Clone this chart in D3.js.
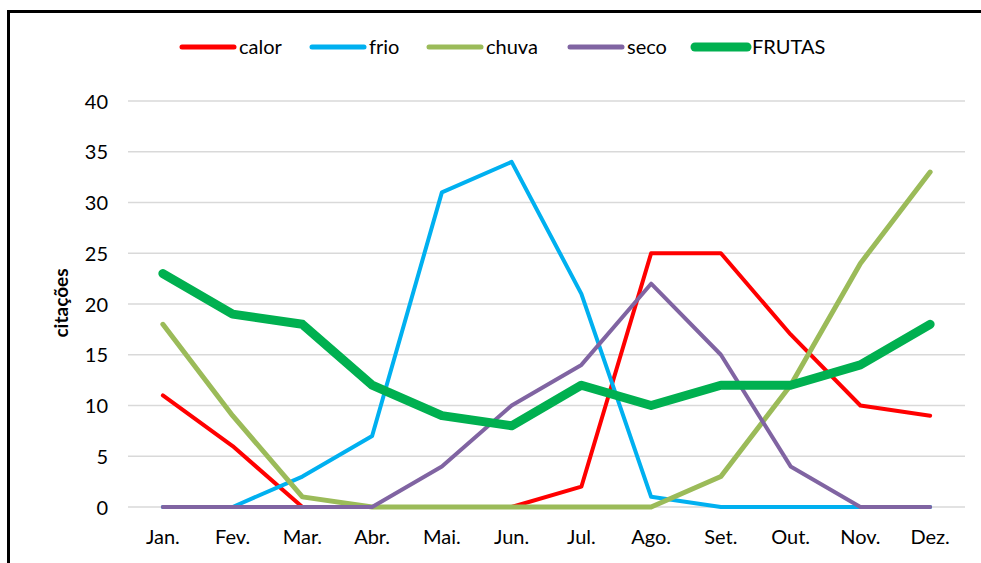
<!DOCTYPE html>
<html>
<head>
<meta charset="utf-8">
<script src="https://cdn.jsdelivr.net/npm/d3@7"></script>
<style>
  body { margin: 0; background: #fff; }
  svg text { font-family: Lato, "Open Sans", sans-serif; fill: #000; }
</style>
</head>
<body>
<svg id="chart" width="981" height="563"></svg>
<script>
var months = ["Jan.", "Fev.", "Mar.", "Abr.", "Mai.", "Jun.", "Jul.", "Ago.", "Set.", "Out.", "Nov.", "Dez."];
var yTicks = [0, 5, 10, 15, 20, 25, 30, 35, 40];

var calor  = [11, 6, 0, 0, 0, 0, 2, 25, 25, 17, 10, 9];
var frio   = [0, 0, 3, 7, 31, 34, 21, 1, 0, 0, 0, 0];
var chuva  = [18, 9, 1, 0, 0, 0, 0, 0, 3, 12, 24, 33];
var seco   = [0, 0, 0, 0, 4, 10, 14, 22, 15, 4, 0, 0];
var frutas = [23, 19, 18, 12, 9, 8, 12, 10, 12, 12, 14, 18];

var svg = d3.select("#chart");

// frame around chart
svg.append("rect")
  .attr("x", 8.5).attr("y", 11.5)
  .attr("width", 975).attr("height", 600)
  .attr("fill", "none")
  .attr("stroke", "#000")
  .attr("stroke-width", 3);

var x = d3.scaleBand().domain(months).range([128, 965]);
var y = d3.scaleLinear().domain([0, 40]).range([507, 101]);

// gridlines
svg.append("g").selectAll("line")
  .data(yTicks)
  .enter().append("line")
  .attr("x1", 128).attr("x2", 965)
  .attr("y1", d => y(d)).attr("y2", d => y(d))
  .attr("stroke", "#d9d9d9")
  .attr("stroke-width", 1.5);

// y axis
var yAxis = svg.append("g")
  .attr("transform", "translate(108,0)")
  .call(d3.axisLeft(y).tickValues(yTicks).tickSize(0).tickPadding(0));
yAxis.select(".domain").remove();
yAxis.selectAll("text").style("font-size", "20px").attr("dy", "0.35em");

// x axis
var xAxis = svg.append("g")
  .attr("transform", "translate(0,507)")
  .call(d3.axisBottom(x).tickSize(0).tickPadding(23));
xAxis.select(".domain").remove();
xAxis.selectAll("text").style("font-size", "20px");

// y title
svg.append("text")
  .attr("transform", "translate(68,303) rotate(-90)")
  .attr("text-anchor", "middle")
  .style("font-size", "19px")
  .style("font-weight", "bold")
  .text("citações");

var series = [
  { name: "calor", values: calor, color: "#ff0000", width: 4 },
  { name: "frio", values: frio, color: "#00b0f0", width: 4 },
  { name: "chuva", values: chuva, color: "#9bbb59", width: 5 },
  { name: "seco", values: seco, color: "#8064a2", width: 4 },
  { name: "FRUTAS", values: frutas, color: "#00b050", width: 9 }
];

var line = d3.line()
  .x((d, i) => x(months[i]) + x.bandwidth() / 2)
  .y(d => y(d));

svg.append("g").selectAll("path")
  .data(series)
  .enter().append("path")
  .attr("d", d => line(d.values))
  .attr("fill", "none")
  .attr("stroke", d => d.color)
  .attr("stroke-width", d => d.width)
  .attr("stroke-linecap", "round")
  .attr("stroke-linejoin", "round");

// legend
var legendX = [180, 310, 427, 568, 693];
var legend = svg.append("g").selectAll("g")
  .data(series)
  .enter().append("g")
  .attr("transform", (d, i) => "translate(" + legendX[i] + ",47)");
legend.append("line")
  .attr("x1", 2).attr("x2", 54)
  .attr("stroke", d => d.color)
  .attr("stroke-width", d => d.name === "FRUTAS" ? 9 : 5)
  .attr("stroke-linecap", "round");
legend.append("text")
  .attr("x", 59).attr("dy", "0.35em")
  .style("font-size", "20px")
  .text(d => d.name);
</script>
</body>
</html>
